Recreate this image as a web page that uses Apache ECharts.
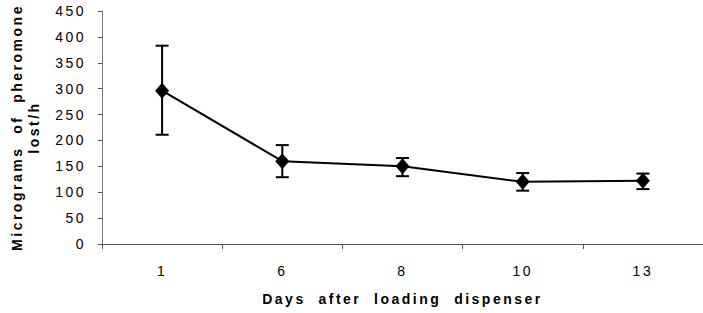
<!DOCTYPE html>
<html>
<head>
<meta charset="utf-8">
<script src="https://cdn.jsdelivr.net/npm/echarts@6/dist/echarts.min.js"></script>
<style>
    html, body { margin: 0; padding: 0; background: #fff; }
    #chart { width: 703px; height: 313px; }
    #chart text { letter-spacing: 2.5px; }
</style>
</head>
<body>
<div id="chart"></div>
<script>
    // 数据
    var days = ['1', '6', '8', '10', '13'];
    var meanLoss = [296, 160, 150, 120, 122];
    var errLow = [211, 129, 131, 103, 106];
    var errHigh = [383, 191, 166, 137, 136];
    var yTicks = [0, 50, 100, 150, 200, 250, 300, 350, 400, 450];

    var errData = [];
    for (var i = 0; i < days.length; i++) {
        errData.push([i, errLow[i], errHigh[i]]);
    }

    var mychart = echarts.init(document.getElementById('chart'), null, { renderer: 'svg' });

    var option = {
        animation: false,
        textStyle: { fontFamily: 'Liberation Sans, Arial, sans-serif' },
        grid: { left: 98, right: -5, top: 11, bottom: 69 },
        xAxis: {
            type: 'category',
            data: days,
            boundaryGap: true,
            name: 'Days  after  loading  dispenser',
            nameLocation: 'middle',
            nameGap: 48,
            nameTextStyle: { fontSize: 14, fontWeight: 'bold', color: '#000' },
            axisLine: { lineStyle: { color: '#555', width: 1 } },
            axisTick: { show: true, length: 5, lineStyle: { color: '#555' } },
            axisLabel: { fontSize: 14, color: '#000', margin: 20 }
        },
        yAxis: {
            type: 'value',
            min: yTicks[0],
            max: yTicks[yTicks.length - 1],
            interval: 50,
            name: 'Micrograms  of  pheromone\nlost/h',
            nameLocation: 'middle',
            nameRotate: 90,
            nameGap: 60,
            nameTextStyle: { fontSize: 14, fontWeight: 'bold', color: '#000', lineHeight: 17 },
            axisLine: { show: true, lineStyle: { color: '#777', width: 1 } },
            axisTick: { show: true, length: 4, lineStyle: { color: '#555' } },
            axisLabel: { fontSize: 14, color: '#000', margin: 16 },
            splitLine: { show: false }
        },
        series: [
            {
                type: 'custom',
                z: 1,
                renderItem: function (params, api) {
                    var x = api.value(0);
                    var lo = api.coord([x, api.value(1)]);
                    var hi = api.coord([x, api.value(2)]);
                    var half = 6.5;
                    var st = { stroke: '#000', lineWidth: 2 };
                    return {
                        type: 'group',
                        children: [
                            { type: 'line', shape: { x1: lo[0], y1: lo[1], x2: hi[0], y2: hi[1] }, style: st },
                            { type: 'line', shape: { x1: lo[0] - half, y1: lo[1], x2: lo[0] + half, y2: lo[1] }, style: st },
                            { type: 'line', shape: { x1: hi[0] - half, y1: hi[1], x2: hi[0] + half, y2: hi[1] }, style: st }
                        ]
                    };
                },
                data: errData
            },
            {
                type: 'line',
                z: 2,
                data: meanLoss,
                symbol: 'diamond',
                symbolSize: [14, 16],
                itemStyle: { color: '#000' },
                lineStyle: { color: '#000', width: 2 }
            }
        ]
    };

    mychart.setOption(option);
</script>
</body>
</html>
